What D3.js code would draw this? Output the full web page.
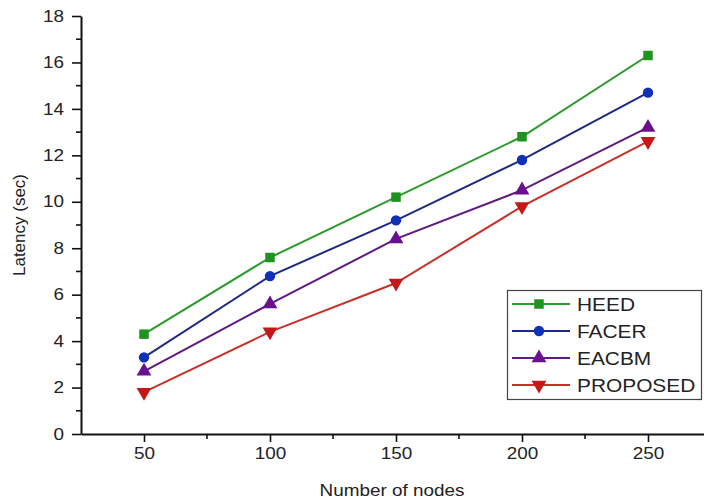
<!DOCTYPE html>
<html>
<head>
<meta charset="utf-8">
<script src="https://cdn.jsdelivr.net/npm/d3@7"></script>
<style>
  body { margin: 0; background: #fff; }
  svg text { font-family: "Liberation Sans", Arial, sans-serif; fill: #222; }
  .stretch-mid { transform-box: fill-box; transform-origin: center; transform: scaleX(1.18); }
  .stretch-end { transform-box: fill-box; transform-origin: right center; transform: scaleX(1.18); }
  .stretch-start { transform-box: fill-box; transform-origin: left center; transform: scaleX(1.16); }
</style>
</head>
<body>
<div id="vis"></div>
<script>
// data
var nodeCounts = [50, 100, 150, 200, 250];
var seriesNames = ["HEED", "FACER", "EACBM", "PROPOSED"];
var heed = [4.3, 7.6, 10.2, 12.8, 16.3];
var facer = [3.3, 6.8, 9.2, 11.8, 14.7];
var eacbm = [2.7, 5.6, 8.4, 10.5, 13.2];
var proposed = [1.8, 4.4, 6.5, 9.8, 12.6];
var yTicks = [0, 2, 4, 6, 8, 10, 12, 14, 16, 18];

var width = 704, height = 501;

// style of each series
var lineColor = { HEED: "#2a9a2a", FACER: "#1c2a86", EACBM: "#5e1a80", PROPOSED: "#c8302a" };
var markColor = { HEED: "#1f931f", FACER: "#1030b8", EACBM: "#6a0f8e", PROPOSED: "#c41818" };
var markShape = { HEED: d3.symbolSquare, FACER: d3.symbolCircle, EACBM: d3.symbolTriangle, PROPOSED: d3.symbolTriangle };
var markSize = { HEED: 90, FACER: 85, EACBM: 95, PROPOSED: 95 };

var series = [
  { name: "HEED", values: heed },
  { name: "FACER", values: facer },
  { name: "EACBM", values: eacbm },
  { name: "PROPOSED", values: proposed }
];

var svg = d3.select("#vis").append("svg")
  .attr("width", width)
  .attr("height", height);

var x = d3.scaleLinear().domain([25, 275]).range([81, 711]);
var y = d3.scaleLinear().domain([0, 18]).range([434, 16]);

// axes (major + minor ticks)
var xAxis = svg.append("g")
  .attr("transform", "translate(0," + y(0) + ")")
  .call(d3.axisBottom(x).tickValues(nodeCounts).tickSize(8).tickPadding(6).tickSizeOuter(0));
xAxis.append("g").selectAll("line")
  .data(nodeCounts.map(function(d){ return d + 25; }))
  .join("line")
  .attr("x1", function(d){ return x(d); })
  .attr("x2", function(d){ return x(d); })
  .attr("y1", 0).attr("y2", 5)
  .attr("stroke", "#111").attr("stroke-width", 1.6);

var yAxis = svg.append("g")
  .attr("transform", "translate(" + x(25) + ",0)")
  .call(d3.axisLeft(y).tickValues(yTicks).tickSize(9).tickPadding(8).tickSizeOuter(0));
yAxis.append("g").selectAll("line")
  .data(yTicks.slice(0, -1).map(function(d){ return d + 1; }))
  .join("line")
  .attr("y1", function(d){ return y(d); })
  .attr("y2", function(d){ return y(d); })
  .attr("x1", 0).attr("x2", -5)
  .attr("stroke", "#111").attr("stroke-width", 1.6);

svg.selectAll(".domain").attr("stroke", "#111").attr("stroke-width", 2);
svg.selectAll(".tick line").attr("stroke", "#111").attr("stroke-width", 1.6);
svg.selectAll(".tick text").attr("font-size", 16).style("font-family", null);
xAxis.selectAll(".tick text").attr("class", "stretch-mid");
yAxis.selectAll(".tick text").attr("class", "stretch-end");

// axis titles
svg.append("text")
  .attr("class", "stretch-mid")
  .attr("x", 392).attr("y", 496)
  .attr("text-anchor", "middle")
  .attr("font-size", 16)
  .text("Number of nodes");

svg.append("text")
  .attr("transform", "translate(25,225) rotate(-90)")
  .attr("text-anchor", "middle")
  .attr("font-size", 17)
  .text("Latency (sec)");

// lines and markers
var line = d3.line()
  .x(function(d, i){ return x(nodeCounts[i]); })
  .y(function(d){ return y(d); });

series.forEach(function(s){
  svg.append("path")
    .datum(s.values)
    .attr("fill", "none")
    .attr("stroke", lineColor[s.name])
    .attr("stroke-width", 2)
    .attr("d", line);

  svg.append("g").selectAll("path")
    .data(s.values)
    .join("path")
    .attr("d", d3.symbol().type(markShape[s.name]).size(markSize[s.name]))
    .attr("transform", function(d, i){
      return "translate(" + x(nodeCounts[i]) + "," + y(d) + ")" + (s.name === "PROPOSED" ? " rotate(180)" : "");
    })
    .attr("fill", markColor[s.name]);
});

// legend
var legend = svg.append("g");
legend.append("rect")
  .attr("x", 507.5).attr("y", 290.5)
  .attr("width", 194).attr("height", 109)
  .attr("fill", "#fff").attr("stroke", "#444").attr("stroke-width", 1.2);

var item = legend.selectAll("g.item")
  .data(seriesNames)
  .join("g")
  .attr("class", "item")
  .attr("transform", function(d, i){ return "translate(0," + (304 + i * 27) + ")"; });

item.append("line")
  .attr("x1", 512).attr("x2", 570)
  .attr("stroke", function(d){ return lineColor[d]; })
  .attr("stroke-width", 2);
item.append("path")
  .attr("d", function(d){ return d3.symbol().type(markShape[d]).size(markSize[d])(); })
  .attr("transform", function(d){ return "translate(539,0)" + (d === "PROPOSED" ? " rotate(180)" : ""); })
  .attr("fill", function(d){ return markColor[d]; });
item.append("text")
  .attr("class", "stretch-start")
  .attr("x", 577).attr("y", 7)
  .attr("font-size", 18)
  .text(function(d){ return d; });
</script>
</body>
</html>
